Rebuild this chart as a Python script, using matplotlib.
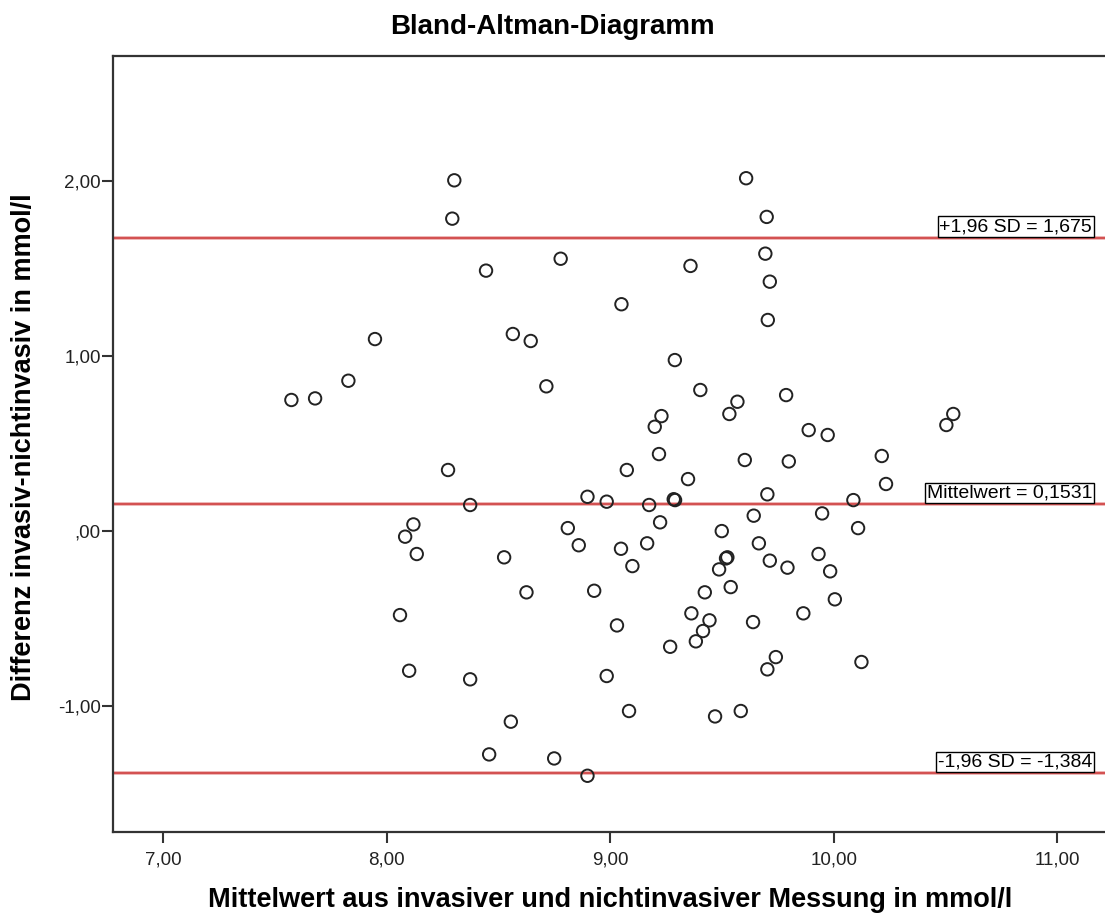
import matplotlib
matplotlib.use("Agg")
import matplotlib.pyplot as plt
from matplotlib.ticker import FixedLocator, FixedFormatter

plt.rcParams['font.family'] = ['Liberation Sans', 'DejaVu Sans']

# ---- data ----
mean_vals = [7.573, 7.679, 7.828, 7.947, 8.293, 8.302, 8.444, 8.564, 8.644, 8.714, 8.778,
             9.050, 9.199, 9.229, 9.289, 9.359, 9.403, 9.533, 9.569, 9.608, 9.694, 9.700,
             9.705, 9.714, 9.787, 9.888, 9.973, 10.504, 10.535,
             9.218, 9.602, 9.799, 10.215, 10.234, 9.074, 9.348, 8.984, 9.174, 9.290, 9.284,
             9.703, 10.088, 9.642, 9.948, 9.223, 9.499, 10.109, 9.165, 9.048, 9.665,
             9.099, 9.518, 9.524, 9.487, 9.714, 9.793, 9.932, 9.984, 9.539, 9.423,
             10.005, 9.363, 9.444, 9.415, 9.383, 9.639, 9.864, 9.030, 9.268, 9.741,
             9.703, 10.124, 8.984, 9.084, 9.469, 9.584,
             8.274, 8.373, 8.898, 8.119, 8.082, 8.134, 8.810, 8.859, 8.525, 8.625,
             8.928, 8.059, 8.100, 8.373, 8.555, 8.458, 8.749, 8.898]
diff_vals = [0.747, 0.756, 0.857, 1.095, 1.783, 2.002, 1.486, 1.124, 1.084, 0.825, 1.554,
             1.294, 0.594, 0.655, 0.975, 1.513, 0.804, 0.667, 0.737, 2.014, 1.583, 1.793,
             1.204, 1.423, 0.775, 0.575, 0.547, 0.604, 0.667,
             0.438, 0.404, 0.396, 0.427, 0.267, 0.347, 0.295, 0.166, 0.147, 0.175, 0.180,
             0.208, 0.175, 0.086, 0.099, 0.048, -0.002, 0.015, -0.072, -0.103, -0.072,
             -0.202, -0.158, -0.152, -0.221, -0.171, -0.211, -0.133, -0.232, -0.322, -0.352,
             -0.392, -0.472, -0.512, -0.573, -0.632, -0.522, -0.472, -0.541, -0.663, -0.722,
             -0.792, -0.750, -0.830, -1.030, -1.061, -1.030,
             0.347, 0.147, 0.194, 0.036, -0.034, -0.133, 0.015, -0.083, -0.152, -0.352,
             -0.343, -0.482, -0.800, -0.849, -1.091, -1.278, -1.301, -1.400]

ref_values = [1.675, 0.1531, -1.384]
ref_labels = ["+1,96 SD = 1,675", "Mittelwert = 0,1531", "-1,96 SD = -1,384"]

x_ticks = [7, 8, 9, 10, 11]
x_ticklabels = ["7,00", "8,00", "9,00", "10,00", "11,00"]
y_ticks = [-1, 0, 1, 2]
y_ticklabels = ["-1,00", ",00", "1,00", "2,00"]

title = "Bland-Altman-Diagramm"
xlabel = "Mittelwert aus invasiver und nichtinvasiver Messung in mmol/l"
ylabel = "Differenz invasiv-nichtinvasiv in mmol/l"

# ---- figure ----
W, H = 1105, 913
fig = plt.figure(figsize=(W / 100, H / 100), dpi=100)
left_px, right_px, top_px, bottom_px = 113.3, 1105.0, 55.7, 832.3
ax = fig.add_axes([left_px / W, 1 - bottom_px / H,
                   (right_px - left_px) / W, (bottom_px - top_px) / H])
ax.set_xlim(6.776, 11.214)
ax.set_ylim(-1.723, 2.714)

for s in ['left', 'bottom', 'top']:
    ax.spines[s].set_color('#333333')
    ax.spines[s].set_linewidth(1.6)
ax.spines['right'].set_visible(False)

# reference lines
for v in ref_values:
    ax.axhline(v, color='#eaa8a8', lw=2.6, zorder=1)
    ax.axhline(v, color='#cc3838', lw=1.1, zorder=2)

ax.scatter(mean_vals, diff_vals, s=80, facecolors='none', edgecolors='#222222',
           linewidths=1.4, zorder=3)

for v, lab in zip(ref_values, ref_labels):
    ax.annotate(lab, xy=(0.9962, v), xycoords=('axes fraction', 'data'),
                xytext=(-6.6, 1.8), textcoords='offset points',
                ha='right', va='bottom', fontsize=14, color='black', zorder=5,
                bbox=dict(boxstyle='square,pad=0.08', fc='white', ec='black', lw=1.0))

ax.xaxis.set_major_locator(FixedLocator(x_ticks))
ax.xaxis.set_major_formatter(FixedFormatter(x_ticklabels))
ax.yaxis.set_major_locator(FixedLocator(y_ticks))
ax.yaxis.set_major_formatter(FixedFormatter(y_ticklabels))
ax.tick_params(axis='both', direction='out', length=8, width=1.5, color='#333333',
               labelsize=13.5, labelcolor='#222222')
ax.tick_params(axis='x', pad=6)
ax.tick_params(axis='y', pad=1)

fig.text(0.5, 1 - 34 / H, title, ha='center', va='baseline',
         fontsize=20, fontweight='bold')
fig.text(610 / W, 1 - 907 / H, xlabel, ha='center', va='baseline',
         fontsize=19.5, fontweight='bold')
fig.text(24 / W, 1 - 447 / H, ylabel, ha='center', va='center', rotation=90,
         fontsize=19.5, fontweight='bold')

fig.savefig('out.png', dpi=100, facecolor='white')
